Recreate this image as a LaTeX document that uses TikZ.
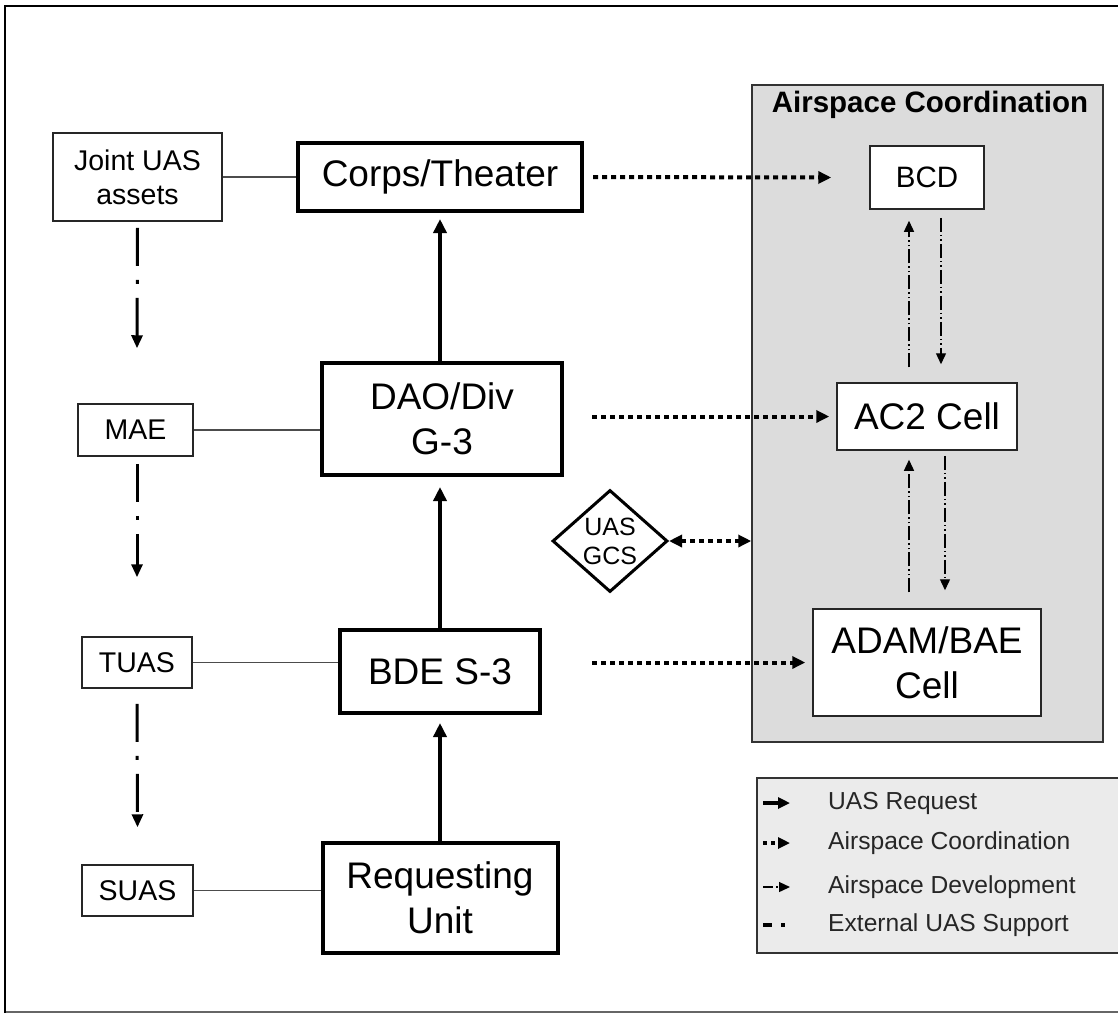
\documentclass[tikz,border=0pt]{standalone}
\usepackage{fontspec}
\setmainfont{Liberation Sans}
\usetikzlibrary{arrows.meta,shapes.geometric,calc}
\definecolor{panelgray}{HTML}{DCDCDC}
\definecolor{leggray}{HTML}{EBEBEB}
\begin{document}
\begin{tikzpicture}[x=1pt,y=-1pt,
  bigbox/.style={draw=black, line width=4pt, fill=white, inner sep=0pt, align=center,
     font=\fontsize{37}{45}\selectfont},
  smallbox/.style={draw=black!85, line width=1.5pt, fill=white, inner sep=0pt, align=center,
     font=\fontsize{28.5}{34}\selectfont},
  cellbox/.style={draw=black!85, line width=1.5pt, fill=white, inner sep=0pt, align=center,
     font=\fontsize{37}{45}\selectfont},
  tie/.style={draw=black!70, line width=1.5pt},
  request/.style={line width=4pt, -{Triangle[length=14pt,width=13pt]}},
  coord/.style={line width=4pt, dash pattern=on 5pt off 4pt, -{Triangle[length=13pt,width=12pt]}},
  devel/.style={line width=1.3pt, dash pattern=on 14pt off 3pt on 1.5pt off 3pt on 1.5pt off 3pt,
     -{Triangle[length=11pt,width=10pt]}},
  support/.style={line width=3pt, dash pattern=on 38pt off 14pt on 4pt off 14pt,
     -{Triangle[length=13pt,width=11pt]}},
  legtext/.style={anchor=west, inner sep=0pt, text=black!85, font=\fontsize{24.6}{30}\selectfont}
]
\useasboundingbox (0,0) rectangle (1118,1013);
\fill[white] (0,0) rectangle (1118,1013);
% outer frame
\draw[black!60, line width=1.5pt] (5,1012) -- (1118,1012);
\draw[black, line width=2pt] (5,1013) -- (5,6) -- (1118,6);

% airspace panel
\node[draw=black!80, line width=1.5pt, fill=panelgray, minimum width=351pt, minimum height=657pt,
      inner sep=0pt] (panel) at (927.5,413.5) {};
\node[font=\bfseries\fontsize{29.5}{34}\selectfont, inner sep=0pt] (title) at (930,105) {Airspace Coordination};

% main column
\node[bigbox, minimum width=284pt, minimum height=68pt] (corps) at (440,177) {Corps/Theater};
\node[bigbox, minimum width=240pt, minimum height=112pt] (dao) at (442,419) {DAO/Div\\G-3};
\node[bigbox, minimum width=200pt, minimum height=83pt] (bde) at (440,671.5) {BDE S-3};
\node[bigbox, minimum width=235pt, minimum height=110pt] (req) at (440,898) {Requesting\\Unit};

% left column
\node[smallbox, minimum width=169pt, minimum height=88pt] (joint) at (137.5,177) {Joint UAS\\assets};
\node[smallbox, minimum width=115pt, minimum height=52pt] (mae) at (135.5,430) {MAE};
\node[smallbox, minimum width=110pt, minimum height=51pt] (tuas) at (137,662.5) {TUAS};
\node[smallbox, minimum width=111pt, minimum height=51pt] (suas) at (137.5,890.5) {SUAS};

% right cells
\node[cellbox, minimum width=114pt, minimum height=63pt, font=\fontsize{29.5}{34}\selectfont] (bcd) at (927,177.5) {BCD};
\node[cellbox, minimum width=180pt, minimum height=67pt] (ac2) at (927,416.5) {AC2 Cell};
\node[cellbox, minimum width=228pt, minimum height=107pt] (adam) at (927,662.5) {ADAM/BAE\\Cell};

% diamond
\node[draw=black, line width=3pt, fill=white, diamond, minimum width=115pt, minimum height=102pt,
      inner sep=0pt, align=center, font=\fontsize{25}{29}\selectfont] (gcs) at (610,541) {UAS\\GCS};

% ties
\draw[tie] (joint.east) -- (joint.east -| corps.west);
\draw[tie] (mae.east) -- (mae.east -| dao.west);
\draw[tie] (tuas.east) -- (tuas.east -| bde.west);
\draw[tie] (suas.east) -- (suas.east -| req.west);

% UAS request arrows
\draw[request, shorten >=6pt] (dao.north -| corps.south) -- (corps.south);
\draw[request, shorten >=10pt] (bde.north) -- (bde.north |- dao.south);
\draw[request, shorten >=8pt] (req.north) -- (bde.south);

% external support arrows
\draw[support] ($(joint.south)+(0,6)$) -- ($(mae.north)+(1.5,-55)$);
\draw[support] ($(mae.south)+(1.5,7)$) -- ($(tuas.north)+(0,-59)$);
\draw[support] ($(tuas.south)+(0,15)$) -- ($(suas.north)+(0,-37)$);

% airspace coordination arrows
\draw[coord] ($(corps.east)+(9,0)$) -- ($(bcd.west)+(-38,0)$);
\draw[coord] ($(dao.east |- ac2.west)+(28,0)$) -- ($(ac2.west)+(-7,0)$);
\draw[coord] ($(bde.east |- adam.west)+(50,0)$) -- ($(adam.west)+(-7,0)$);
\draw[line width=4pt, dash pattern=on 5pt off 4pt, {Triangle[length=13pt,width=12pt]}-{Triangle[length=13pt,width=12pt]}]
   (gcs.east) -- (gcs.east -| panel.west);

% airspace development arrows
\draw[devel] ($(ac2.north)+(-18,-15)$) -- ($(bcd.south)+(-18,11)$);
\draw[devel] ($(bcd.south)+(14,8)$) -- ($(ac2.north)+(14,-18)$);
\draw[devel] ($(adam.north)+(-18,-16)$) -- ($(ac2.south)+(-18,9)$);
\draw[devel] ($(ac2.south)+(18,5)$) -- ($(adam.north)+(18,-18)$);

% legend
\node[draw=black!80, line width=1.5pt, fill=leggray, minimum width=368pt, minimum height=175pt,
      inner sep=0pt] (legend) at (941,865.5) {};
\node[legtext] (l1) at (828,803) {UAS Request};
\node[legtext] (l2) at (828,843) {Airspace Coordination};
\node[legtext] (l3) at (828,887) {Airspace Development};
\node[legtext] (l4) at (828,925) {External UAS Support};
\coordinate (s1) at (763,803);
\coordinate (s2) at (763,843);
\coordinate (s3) at (763,887);
\coordinate (s4) at (763,925);
\draw[line width=3.5pt, -{Triangle[length=12pt,width=11pt]}] (s1) -- ($(l1.west)+(-38,0)$);
\draw[line width=3.5pt, dash pattern=on 4pt off 4pt, -{Triangle[length=12pt,width=11pt]}] (s2) -- ($(l2.west)+(-38,0)$);
\draw[line width=1.3pt, dash pattern=on 10pt off 3pt on 1.5pt off 3pt, -{Triangle[length=11pt,width=10pt]}] (s3) -- ($(l3.west)+(-38,0)$);
\draw[line width=3.5pt, dash pattern=on 9pt off 9pt on 4pt off 20pt] (s4) -- ($(l4.west)+(-40,0)$);
\end{tikzpicture}
\end{document}
